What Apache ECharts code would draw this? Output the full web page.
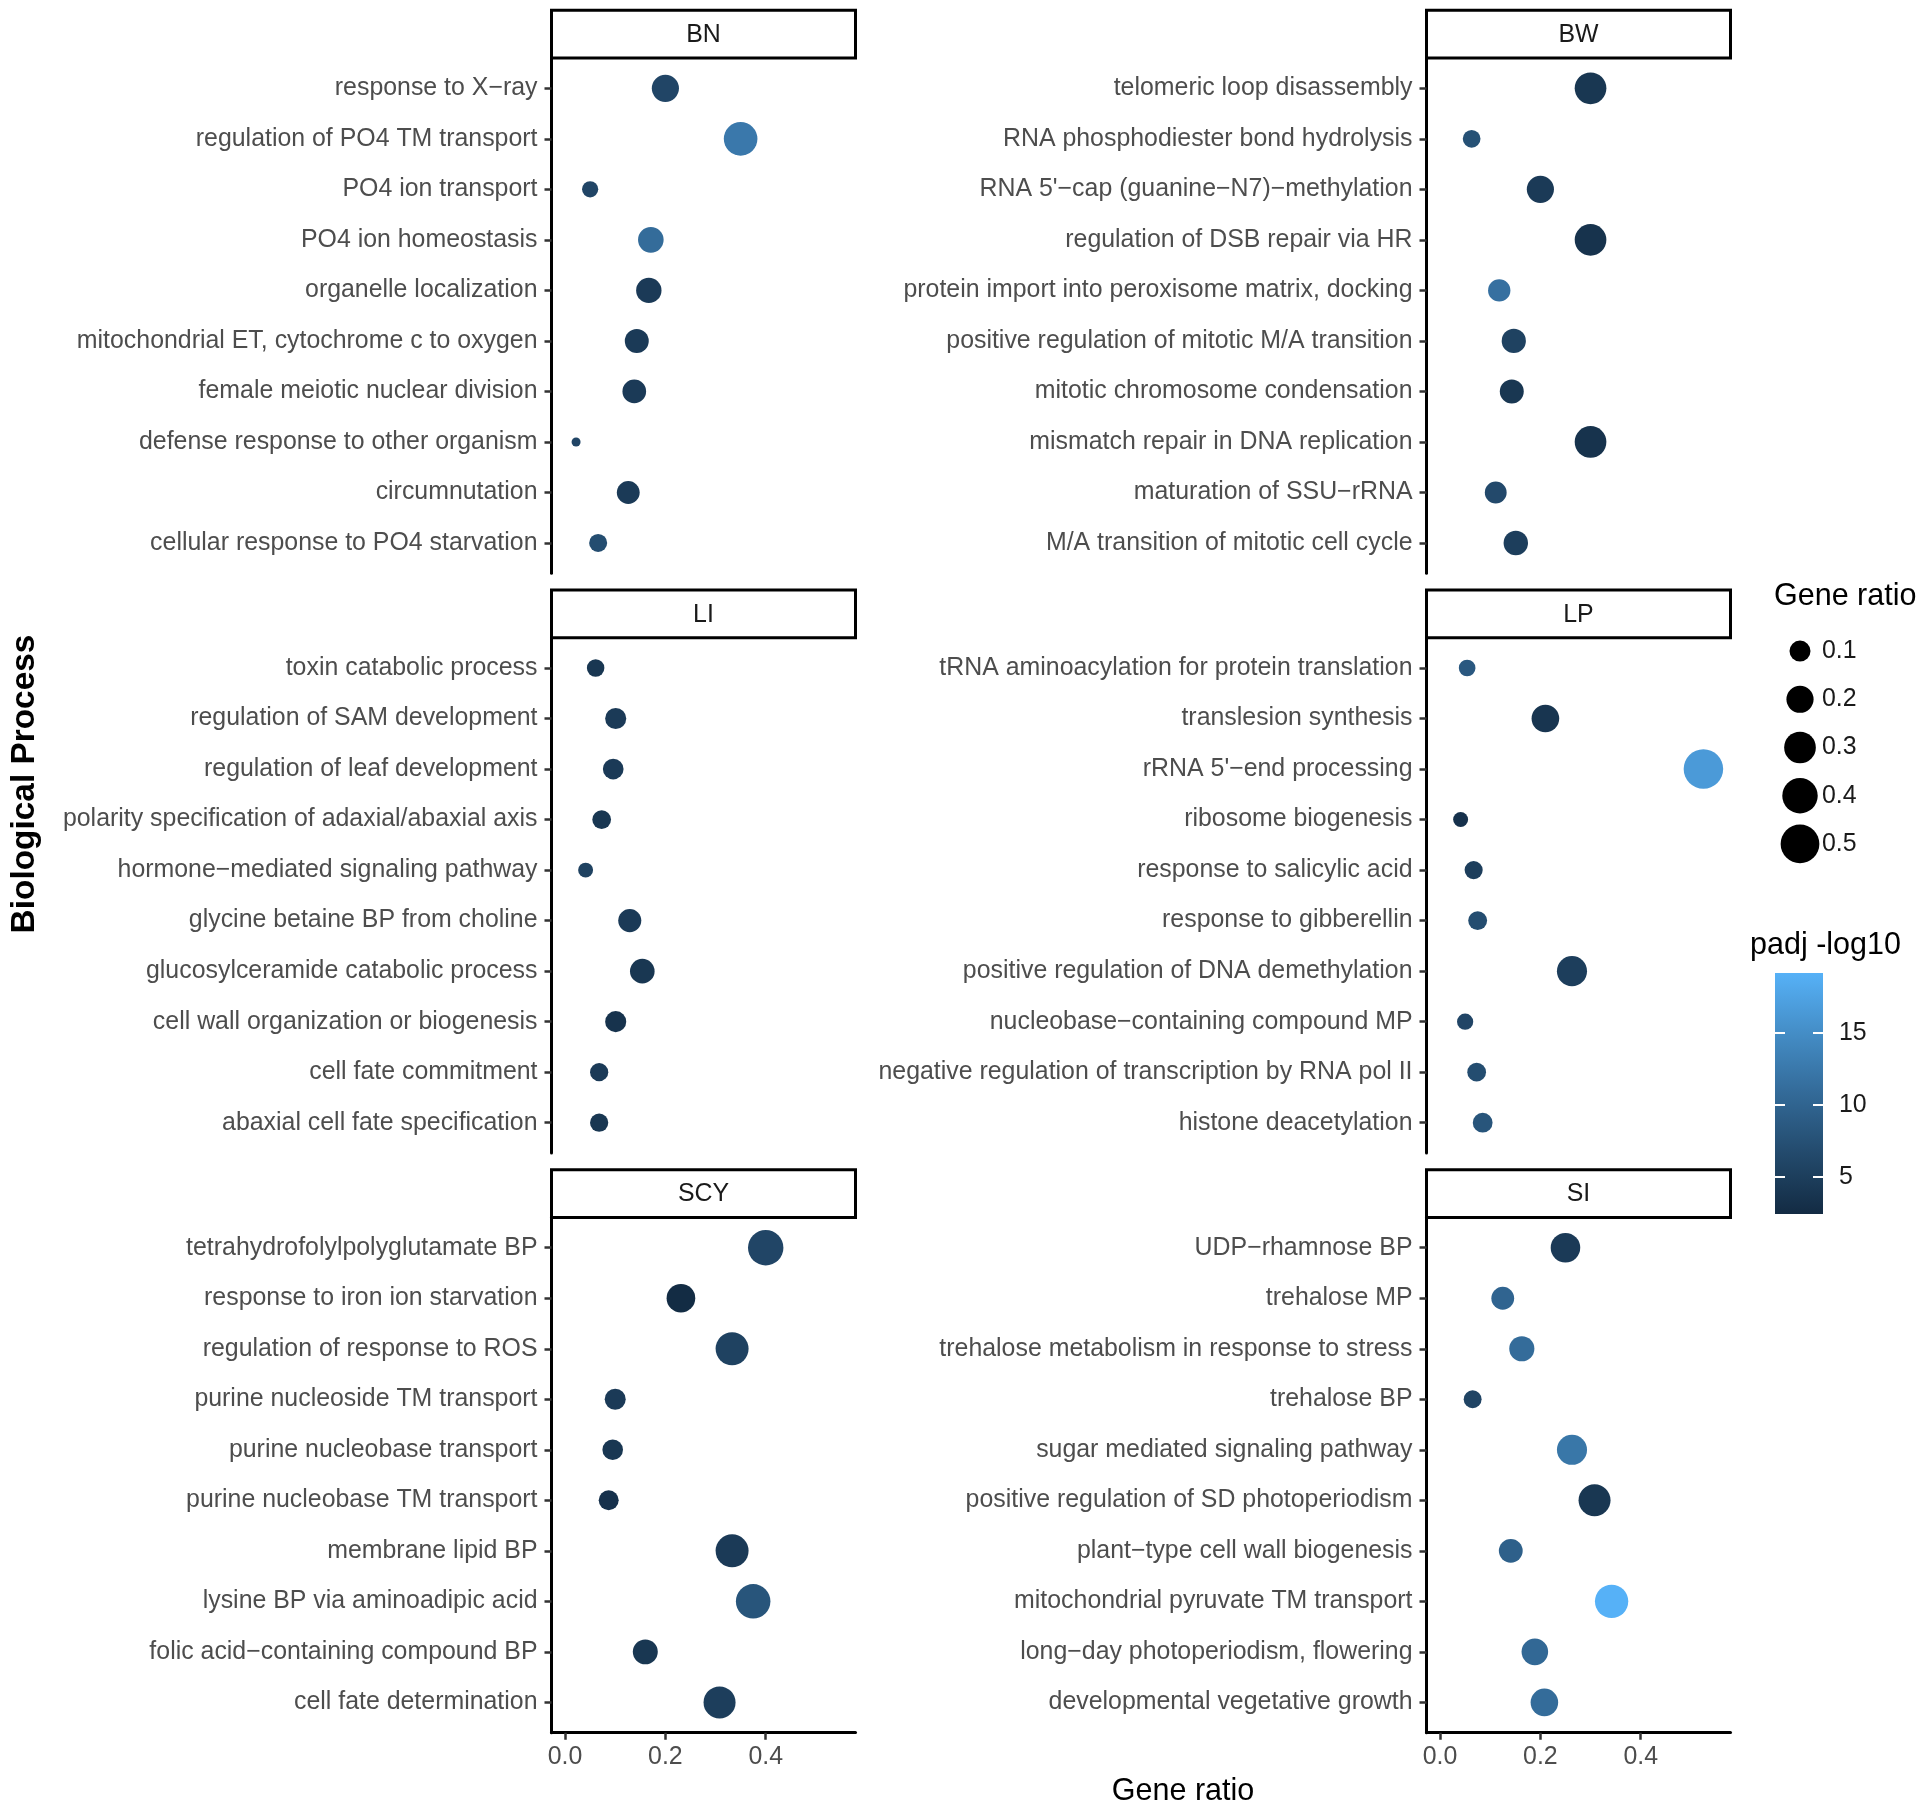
<!DOCTYPE html>
<html>
<head>
<meta charset="utf-8">
<script src="https://cdn.jsdelivr.net/npm/echarts@6/dist/echarts.min.js"></script>
<style>
html,body{margin:0;padding:0;background:#fff;}
#chart{width:1928px;height:1816px;}
</style>
</head>
<body>
<div id="chart"></div>
<script>
// ---------------- DATA ----------------
const panelNames = ['BN', 'BW', 'LI', 'LP', 'SCY', 'SI'];

const termsBN = ['response to X\u2212ray', 'regulation of PO4 TM transport', 'PO4 ion transport', 'PO4 ion homeostasis', 'organelle localization', 'mitochondrial ET, cytochrome c to oxygen', 'female meiotic nuclear division', 'defense response to other organism', 'circumnutation', 'cellular response to PO4 starvation'];
const ratioBN = [0.200, 0.350, 0.050, 0.171, 0.167, 0.143, 0.138, 0.022, 0.126, 0.066];
const padjBN  = [6.0, 12.5, 6.0, 11.0, 4.5, 4.5, 4.5, 6.0, 4.5, 7.0];

const termsBW = ['telomeric loop disassembly', 'RNA phosphodiester bond hydrolysis', "RNA 5'\u2212cap (guanine\u2212N7)\u2212methylation", 'regulation of DSB repair via HR', 'protein import into peroxisome matrix, docking', 'positive regulation of mitotic M/A transition', 'mitotic chromosome condensation', 'mismatch repair in DNA replication', 'maturation of SSU\u2212rRNA', 'M/A transition of mitotic cell cycle'];
const ratioBW = [0.300, 0.063, 0.200, 0.300, 0.118, 0.147, 0.143, 0.300, 0.111, 0.151];
const padjBW  = [4.0, 7.5, 4.5, 3.5, 11.5, 5.5, 4.0, 3.5, 6.5, 5.0];

const termsLI = ['toxin catabolic process', 'regulation of SAM development', 'regulation of leaf development', 'polarity specification of adaxial/abaxial axis', 'hormone\u2212mediated signaling pathway', 'glycine betaine BP from choline', 'glucosylceramide catabolic process', 'cell wall organization or biogenesis', 'cell fate commitment', 'abaxial cell fate specification'];
const ratioLI = [0.061, 0.101, 0.096, 0.073, 0.041, 0.129, 0.154, 0.101, 0.068, 0.068];
const padjLI  = [4.0, 4.5, 4.5, 4.0, 5.5, 4.5, 4.0, 3.5, 4.5, 4.0];

const termsLP = ['tRNA aminoacylation for protein translation', 'translesion synthesis', "rRNA 5'\u2212end processing", 'ribosome biogenesis', 'response to salicylic acid', 'response to gibberellin', 'positive regulation of DNA demethylation', 'nucleobase\u2212containing compound MP', 'negative regulation of transcription by RNA pol II', 'histone deacetylation'];
const ratioLP = [0.054, 0.210, 0.525, 0.041, 0.067, 0.075, 0.263, 0.050, 0.073, 0.085];
const padjLP  = [8.5, 3.8, 16.5, 3.3, 5.0, 7.0, 5.0, 6.0, 7.0, 8.0];

const termsSCY = ['tetrahydrofolylpolyglutamate BP', 'response to iron ion starvation', 'regulation of response to ROS', 'purine nucleoside TM transport', 'purine nucleobase transport', 'purine nucleobase TM transport', 'membrane lipid BP', 'lysine BP via aminoadipic acid', 'folic acid\u2212containing compound BP', 'cell fate determination'];
const ratioSCY = [0.400, 0.231, 0.333, 0.100, 0.095, 0.087, 0.333, 0.375, 0.160, 0.308];
const padjSCY  = [6.0, 2.5, 5.5, 4.5, 4.0, 3.3, 4.5, 8.0, 4.0, 5.0];

const termsSI = ['UDP\u2212rhamnose BP', 'trehalose MP', 'trehalose metabolism in response to stress', 'trehalose BP', 'sugar mediated signaling pathway', 'positive regulation of SD photoperiodism', 'plant\u2212type cell wall biogenesis', 'mitochondrial pyruvate TM transport', 'long\u2212day photoperiodism, flowering', 'developmental vegetative growth'];
const ratioSI = [0.250, 0.125, 0.163, 0.065, 0.263, 0.308, 0.141, 0.342, 0.189, 0.208];
const padjSI  = [4.5, 10.0, 11.0, 5.8, 12.3, 4.0, 9.5, 19.17, 10.5, 11.0];

const xTicks = [0.0, 0.2, 0.4];
const sizeLegendValues = [0.1, 0.2, 0.3, 0.4, 0.5];
const colorbarTicks = [5, 10, 15];
const padjRange = [2.43, 19.17];

// ---------------- BUILD ----------------
const termsAll = [termsBN, termsBW, termsLI, termsLP, termsSCY, termsSI];
const ratioAll = [ratioBN, ratioBW, ratioLI, ratioLP, ratioSCY, ratioSI];
const padjAll  = [padjBN, padjBW, padjLI, padjLP, padjSCY, padjSI];

const allRatios = [].concat(...ratioAll);
const rMin = Math.min(...allRatios), rMax = Math.max(...allRatios);
// ggplot-like area scale: diameter grows with sqrt of rescaled value
function sizeOf(v) {
  const t = Math.max(0, Math.min(1, (v - rMin) / (rMax - rMin)));
  return 9 + 30.5 * Math.sqrt(t);
}

const gradColors = ['#132B43', '#234A6C', '#336A98', '#448DC6', '#56B1F7'];
const FONT = '"Liberation Sans", Arial, Helvetica, sans-serif';
const LABEL_SIZE = 24.9;

const colLeft = [551.5, 1426.5];
const rowTop = [58, 637.7, 1217.4];
const panelW = 304, panelH = 515.3, stripH = 47.7;

const grids = [], xAxes = [], yAxes = [], series = [], graphics = [];

panelNames.forEach((name, i) => {
  const col = i % 2, row = Math.floor(i / 2);
  const bottom = row === 2;
  const terms = termsAll[i];
  const idx = terms.map((_, j) => j);
  grids.push({ left: colLeft[col], top: rowTop[row], width: panelW, height: panelH, containLabel: false });
  xAxes.push({
    gridIndex: i, type: 'value', min: -0.027, max: 0.579,
    axisLine: { show: bottom, onZero: false, lineStyle: { color: '#000', width: 3 } },
    axisTick: { show: bottom, customValues: xTicks, length: 7, lineStyle: { color: '#333', width: 2.5 } },
    axisLabel: { show: bottom, customValues: xTicks, formatter: v => v.toFixed(1), margin: 12, fontSize: LABEL_SIZE, color: '#4d4d4d', fontFamily: FONT },
    splitLine: { show: false }
  });
  yAxes.push({
    gridIndex: i, type: 'value', inverse: true, min: -0.6, max: 9.6,
    axisLine: { show: true, onZero: false, lineStyle: { color: '#000', width: 3 } },
    axisTick: { show: true, customValues: idx, length: 7, lineStyle: { color: '#333', width: 2.5 } },
    axisLabel: { customValues: idx, formatter: v => terms[Math.round(v)] || '', margin: 14, fontSize: LABEL_SIZE, color: '#4d4d4d', fontFamily: FONT, padding: [5, 0, 0, 0] },
    splitLine: { show: false }
  });
  series.push({
    type: 'scatter', xAxisIndex: i, yAxisIndex: i,
    data: ratioAll[i].map((r, j) => [r, j, padjAll[i][j]]),
    symbol: 'circle',
    symbolSize: d => sizeOf(d[0]),
    itemStyle: { opacity: 1 },
    z: 3
  });
  // facet strip
  graphics.push({
    type: 'rect', z: 10,
    shape: { x: colLeft[col], y: rowTop[row] - stripH, width: panelW, height: stripH },
    style: { fill: '#fff', stroke: '#000', lineWidth: 3 }
  });
  graphics.push({
    type: 'text', z: 11,
    x: colLeft[col] + panelW / 2, y: rowTop[row] - stripH / 2 + 1,
    style: { text: name, textAlign: 'center', textVerticalAlign: 'middle', fontSize: LABEL_SIZE, fontFamily: FONT, fill: '#1a1a1a' }
  });
});

// size legend grid (index 6)
grids.push({ left: 1777, top: 627, width: 46, height: 241 });
xAxes.push({ gridIndex: 6, type: 'value', min: -1, max: 1, show: false });
yAxes.push({
  gridIndex: 6, type: 'category', position: 'right', inverse: true,
  data: sizeLegendValues.map(v => v.toFixed(1)),
  axisLine: { show: false }, axisTick: { show: false },
  axisLabel: { margin: -1, fontSize: LABEL_SIZE, color: '#1a1a1a', fontFamily: FONT },
  splitLine: { show: false }
});
series.push({
  type: 'scatter', xAxisIndex: 6, yAxisIndex: 6,
  data: sizeLegendValues.map((v, j) => [0, j, v]),
  symbol: 'circle',
  symbolSize: d => sizeOf(d[2]),
  itemStyle: { color: '#000', opacity: 1 }
});

// colour bar grid (index 7)
grids.push({
  left: 1775, top: 973, width: 48, height: 241, show: true, borderWidth: 0,
  backgroundColor: {
    type: 'linear', x: 0, y: 0, x2: 0, y2: 1,
    colorStops: gradColors.slice().reverse().map((c, k) => ({ offset: k / (gradColors.length - 1), color: c }))
  }
});
xAxes.push({ gridIndex: 7, type: 'value', min: 0, max: 1, show: false });
yAxes.push({
  gridIndex: 7, type: 'value', position: 'left', min: padjRange[0], max: padjRange[1], z: 10,
  axisLine: { show: false },
  axisTick: { show: true, inside: true, customValues: colorbarTicks, length: 10, lineStyle: { color: '#fff', width: 2 } },
  axisLabel: { show: false, customValues: colorbarTicks },
  splitLine: { show: false }
});
yAxes.push({
  gridIndex: 7, type: 'value', position: 'right', min: padjRange[0], max: padjRange[1], z: 10,
  axisLine: { show: false },
  axisTick: { show: true, inside: true, customValues: colorbarTicks, length: 10, lineStyle: { color: '#fff', width: 2 } },
  axisLabel: { show: true, customValues: colorbarTicks, margin: 16, fontSize: LABEL_SIZE, color: '#1a1a1a', fontFamily: FONT },
  splitLine: { show: false }
});

// titles
graphics.push({
  type: 'text', x: 1183, y: 1792,
  style: { text: 'Gene ratio', textAlign: 'center', textVerticalAlign: 'middle', fontSize: 30.5, fontFamily: FONT, fill: '#000' }
});
graphics.push({
  type: 'text', x: 25, y: 784, rotation: Math.PI / 2,
  style: { text: 'Biological Process', textAlign: 'center', textVerticalAlign: 'middle', fontSize: 33.4, fontWeight: 'bold', fontFamily: FONT, fill: '#000' }
});
graphics.push({
  type: 'text', x: 1774, y: 597,
  style: { text: 'Gene ratio', textAlign: 'left', textVerticalAlign: 'middle', fontSize: 30.5, fontFamily: FONT, fill: '#000' }
});
graphics.push({
  type: 'text', x: 1750, y: 946,
  style: { text: 'padj -log10', textAlign: 'left', textVerticalAlign: 'middle', fontSize: 30.5, fontFamily: FONT, fill: '#000' }
});

const chart = echarts.init(document.getElementById('chart'));
chart.setOption({
  animation: false,
  backgroundColor: '#fff',
  textStyle: { fontFamily: FONT },
  grid: grids,
  xAxis: xAxes,
  yAxis: yAxes,
  visualMap: {
    type: 'continuous', show: false, dimension: 2,
    min: padjRange[0], max: padjRange[1],
    seriesIndex: [0, 1, 2, 3, 4, 5],
    inRange: { color: gradColors }
  },
  series: series,
  graphic: graphics
});
</script>
</body>
</html>
